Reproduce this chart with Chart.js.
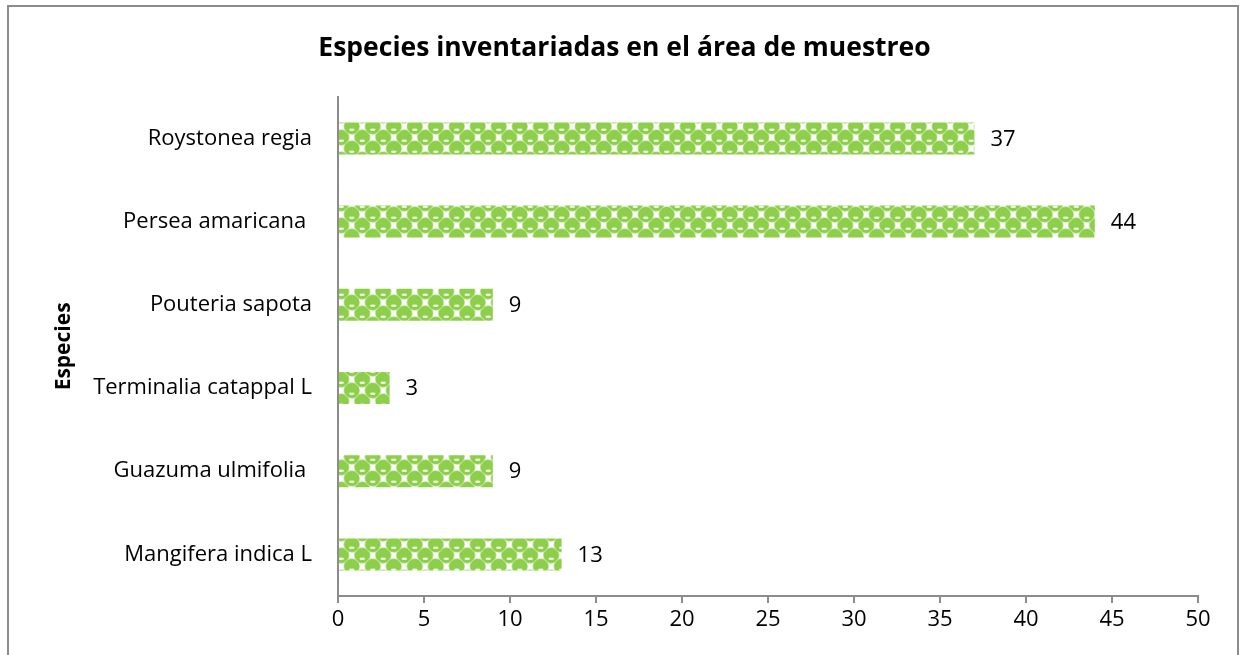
<!DOCTYPE html>
<html>
<head>
<meta charset="utf-8">
<script src="https://cdn.jsdelivr.net/npm/chart.js@4"></script>
<style>
  html, body { margin: 0; padding: 0; background: #fff; }
  #wrap { position: relative; width: 1245px; height: 655px; overflow: hidden; }
  #frame { position: absolute; left: 7px; top: 5px; width: 1232px; height: 700px; border: 2px solid #8c8c8c; box-sizing: border-box; }
  canvas { position: absolute; left: 0; top: 0; }
</style>
</head>
<body>
<div id="wrap">
  <div id="frame"></div>
  <canvas id="myChart" width="1245" height="655"></canvas>
</div>
<script>
var especies = ['Roystonea regia', 'Persea amaricana ', 'Pouteria sapota', 'Terminalia catappal L', 'Guazuma ulmifolia ', 'Mangifera indica L'];
var cantidades = [37, 44, 9, 3, 9, 13];
var ticksX = [0, 5, 10, 15, 20, 25, 30, 35, 40, 45, 50];

var fuente = '"Open Sans", sans-serif';

// relleno tipo "esferas" de Excel
function makePattern() {
    var w = 21, h = 22;
    var c = document.createElement('canvas');
    c.width = w; c.height = h;
    var g = c.getContext('2d');
    g.fillStyle = '#ffffff';
    g.fillRect(0, 0, w, h);
    function blob(cx, cy) {
        g.fillStyle = '#c4e5a2';
        g.beginPath();
        g.arc(cx, cy, 8.3, 0, Math.PI * 2);
        g.fill();
        g.fillStyle = '#8dcf4b';
        g.beginPath();
        g.arc(cx, cy, 7.5, 0, Math.PI * 2);
        g.fill();
        g.fillStyle = '#eef8e4';
        g.beginPath();
        g.ellipse(cx, cy + 3.2, 2.8, 1.2, 0, 0, Math.PI * 2);
        g.fill();
    }
    var pts = [[w / 4, h / 4], [3 * w / 4, 3 * h / 4]];
    pts.forEach(function(p) {
        [-w, 0, w].forEach(function(dx) {
            [-h, 0, h].forEach(function(dy) { blob(p[0] + dx, p[1] + dy); });
        });
    });
    return g.createPattern(c, 'repeat');
}

var valueLabels = {
    id: 'valueLabels',
    afterDatasetsDraw: function(chart) {
        var ctx = chart.ctx;
        var meta = chart.getDatasetMeta(0);
        ctx.save();
        ctx.fillStyle = '#000';
        ctx.font = '22px ' + fuente;
        ctx.textBaseline = 'middle';
        ctx.textAlign = 'left';
        meta.data.forEach(function(bar, i) {
            ctx.fillText(String(cantidades[i]), bar.x + 16, bar.y + 1);
        });
        ctx.restore();
    }
};

var ctx = document.getElementById('myChart').getContext('2d');
var axisGray = '#8c8c8c';

var myChart = new Chart(ctx, {
    type: 'bar',
    data: {
        labels: especies,
        datasets: [{
            data: cantidades,
            backgroundColor: makePattern(),
            borderWidth: 0,
            barPercentage: 0.385,
            categoryPercentage: 1
        }]
    },
    plugins: [valueLabels],
    options: {
        indexAxis: 'y',
        responsive: false,
        animation: false,
        layout: { padding: { left: 51, right: 47, top: 0, bottom: 0 } },
        plugins: {
            legend: { display: false },
            tooltip: { enabled: false },
            title: {
                display: true,
                text: 'Especies inventariadas en el área de muestreo',
                color: '#000',
                font: { family: fuente, size: 26.5, weight: 'bold' },
                padding: { top: 33, bottom: 32 }
            }
        },
        scales: {
            x: {
                min: 0,
                max: 50,
                afterBuildTicks: function(s) { s.ticks = ticksX.map(function(v) { return { value: v }; }); },
                afterFit: function(s) { s.height = 59; },
                grid: { display: true, drawOnChartArea: false, drawTicks: true, tickLength: 7, color: axisGray, lineWidth: 2 },
                border: { display: true, color: axisGray, width: 2 },
                ticks: { color: '#000', padding: 4, font: { family: fuente, size: 22 } }
            },
            y: {
                afterFit: function(s) { s.width = 338 - 51; },
                grid: { display: false },
                border: { display: true, color: axisGray, width: 2 },
                ticks: { color: '#000', padding: 18, font: { family: fuente, size: 22 } },
                title: {
                    display: true,
                    text: 'Especies',
                    color: '#000',
                    padding: 0,
                    font: { family: fuente, size: 21, weight: 'bold' }
                }
            }
        }
    }
});
</script>
</body>
</html>
